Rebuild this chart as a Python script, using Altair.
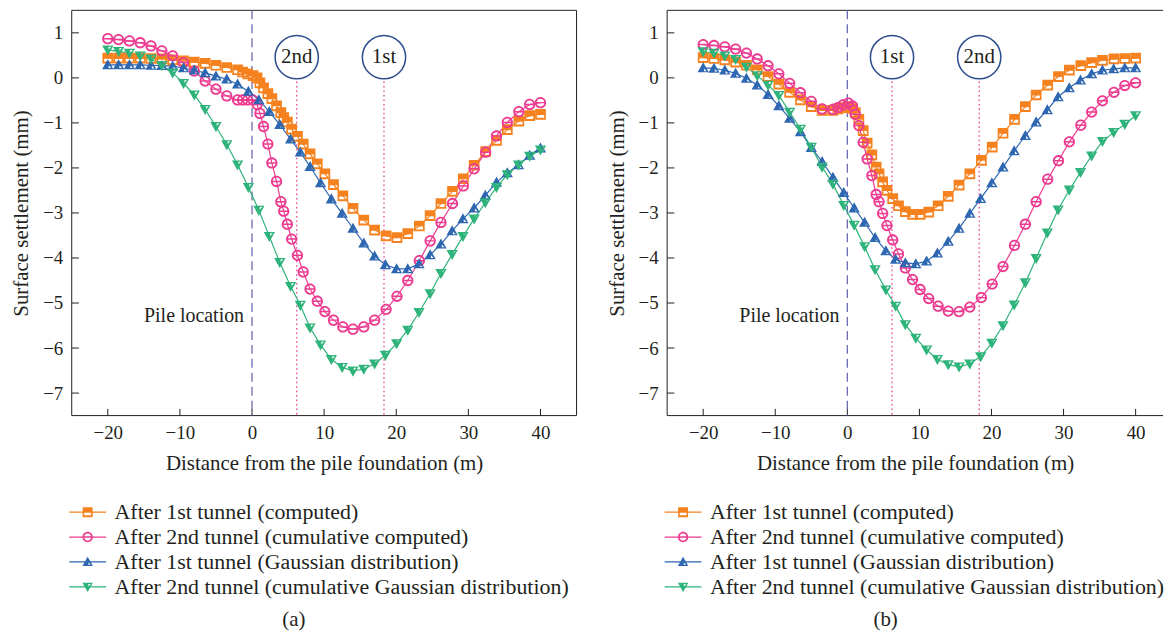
import altair as alt
import pandas as pd

FONT = "Liberation Serif"
INK = "#231f20"

SERIES = [
    "After 1st tunnel (computed)",
    "After 2nd tunnel (cumulative computed)",
    "After 1st tunnel (Gaussian distribution)",
    "After 2nd tunnel (cumulative Gaussian distribution)",
]
COLORS = ["#f5821f", "#ec3b90", "#2e67b1", "#2eb37a"]

# x positions of the computed (numerical) results
X_FE = [-20, -18.5, -17, -15.5, -14, -12.5, -11, -9.5, -8, -6.5,
        -5, -3.5, -2, -1.3, -0.6, 0.15, 0.7, 1.1, 1.6, 2.2,
        2.75, 3.4, 4.0, 4.4, 4.9, 5.5, 6.3, 7.1, 8.05, 9.05,
        10.1, 11.3, 12.6, 14.0, 15.5, 17.0, 18.6, 20.1, 21.6, 23.2,
        24.7, 26.2, 27.8, 29.3, 30.8, 32.4, 33.9, 35.4, 37.0, 38.5,
        40]
# x positions of the Gaussian-distribution curves
X_GS = [-20, -18.5, -17, -15.5, -14, -12.5, -11, -9.5, -8, -6.5,
        -5, -3.5, -2, -0.5, 0.95, 2.4, 3.85, 5.35, 6.7, 8.05,
        9.5, 11.0, 12.5, 14.0, 15.5, 17.0, 18.5, 20.05, 21.6, 23.15,
        24.7, 26.2, 27.75, 29.25, 30.8, 32.35, 33.9, 35.4, 36.95, 38.5,
        40]

# ---- panel (a)
A_COMP1 = [0.44, 0.44, 0.44, 0.44, 0.43, 0.42, 0.40, 0.38, 0.35, 0.32,
           0.28, 0.23, 0.18, 0.13, 0.09, 0.05, 0.0, -0.11, -0.22, -0.35,
           -0.46, -0.62, -0.77, -0.88, -0.98, -1.14, -1.30, -1.47, -1.69, -1.91,
           -2.13, -2.37, -2.62, -2.90, -3.16, -3.38, -3.51, -3.55, -3.46, -3.29,
           -3.06, -2.79, -2.52, -2.24, -1.94, -1.64, -1.39, -1.15, -0.96, -0.84,
           -0.81]
A_COMP2 = [0.87, 0.85, 0.82, 0.78, 0.71, 0.60, 0.49, 0.34, 0.15, -0.07,
           -0.25, -0.40, -0.49, -0.49, -0.49, -0.49, -0.59, -0.79, -1.08, -1.47,
           -1.89, -2.30, -2.75, -2.96, -3.25, -3.58, -3.94, -4.31, -4.69, -4.96,
           -5.19, -5.38, -5.53, -5.58, -5.53, -5.38, -5.14, -4.85, -4.50, -4.06,
           -3.62, -3.21, -2.79, -2.40, -2.02, -1.65, -1.29, -0.99, -0.75, -0.59,
           -0.55]
A_GAUSS1 = [0.29, 0.29, 0.29, 0.29, 0.28, 0.27, 0.26, 0.22, 0.17, 0.11,
            0.04, -0.03, -0.14, -0.30, -0.49, -0.75, -1.04, -1.36, -1.65, -1.97,
            -2.33, -2.69, -3.01, -3.34, -3.67, -3.96, -4.15, -4.24, -4.24, -4.13,
            -3.93, -3.69, -3.40, -3.13, -2.89, -2.61, -2.32, -2.11, -1.93, -1.72,
            -1.56]
A_GAUSS2 = [0.62, 0.59, 0.55, 0.49, 0.42, 0.28, 0.11, -0.12, -0.38, -0.70,
            -1.08, -1.48, -1.93, -2.43, -2.94, -3.52, -4.10, -4.63, -5.05, -5.55,
            -5.93, -6.25, -6.43, -6.51, -6.47, -6.35, -6.16, -5.90, -5.60, -5.21,
            -4.79, -4.34, -3.92, -3.52, -3.13, -2.77, -2.43, -2.15, -1.93, -1.74,
            -1.60]

# ---- panel (b)
B_COMP1 = [0.45, 0.43, 0.40, 0.35, 0.28, 0.18, 0.03, -0.14, -0.32, -0.49,
           -0.64, -0.72, -0.72, -0.69, -0.66, -0.64, -0.68, -0.77, -0.92, -1.17,
           -1.45, -1.71, -1.98, -2.13, -2.31, -2.50, -2.68, -2.84, -2.97, -3.03,
           -3.03, -2.98, -2.84, -2.63, -2.38, -2.13, -1.83, -1.54, -1.23, -0.92,
           -0.64, -0.38, -0.16, 0.03, 0.17, 0.27, 0.34, 0.39, 0.42, 0.43,
           0.44]
B_COMP2 = [0.74, 0.72, 0.69, 0.64, 0.55, 0.42, 0.27, 0.09, -0.12, -0.33,
           -0.52, -0.69, -0.70, -0.66, -0.60, -0.56, -0.62, -0.81, -1.06, -1.43,
           -1.80, -2.17, -2.59, -2.75, -3.01, -3.28, -3.60, -3.91, -4.22, -4.48,
           -4.70, -4.90, -5.07, -5.18, -5.19, -5.09, -4.88, -4.58, -4.19, -3.72,
           -3.25, -2.75, -2.25, -1.84, -1.42, -1.05, -0.76, -0.51, -0.32, -0.17,
           -0.11]
B_GAUSS1 = [0.22, 0.21, 0.17, 0.10, -0.01, -0.16, -0.37, -0.62, -0.90, -1.20,
            -1.55, -1.86, -2.21, -2.55, -2.89, -3.21, -3.55, -3.84, -4.03, -4.11,
            -4.13, -4.07, -3.89, -3.63, -3.34, -3.01, -2.68, -2.33, -1.98, -1.62,
            -1.28, -0.98, -0.71, -0.42, -0.22, -0.05, 0.09, 0.17, 0.20, 0.22,
            0.22]
B_GAUSS2 = [0.58, 0.55, 0.49, 0.41, 0.24, 0.05, -0.16, -0.39, -0.76, -1.14,
            -1.54, -1.98, -2.36, -2.83, -3.27, -3.75, -4.26, -4.71, -5.07, -5.48,
            -5.78, -6.04, -6.25, -6.37, -6.42, -6.35, -6.19, -5.89, -5.50, -5.04,
            -4.55, -4.01, -3.44, -2.93, -2.49, -2.10, -1.73, -1.41, -1.21, -1.03,
            -0.84]

X_TICKS = [-20, -10, 0, 10, 20, 30, 40]
Y_TICKS = [-7, -6, -5, -4, -3, -2, -1, 0, 1]
X_DOMAIN_A = [-25, 45]
X_DOMAIN_B = [-25, 43.8]   # right part of panel (b) is cut off in the figure
Y_DOMAIN = [-7.5, 1.5]
X_TITLE = "Distance from the pile foundation (m)"
Y_TITLE = "Surface settlement (mm)"

PILE_X = [0]
TUNNEL_X = [6.2, 18.3]
TUNNEL_LABELS_A = ["2nd", "1st"]
TUNNEL_LABELS_B = ["1st", "2nd"]
CIRCLE_Y = 0.46
DOTTED_TOP = -0.08
PILE_LABEL = ["Pile location"]
PILE_LABEL_X = [-1.1]
PILE_LABEL_Y = [-5.3]

# marker paths (unit box), holes by opposite winding
PLOT_SHAPES = [
    "M-0.95,-0.95H0.95V0.95H-0.95Z M-0.65,0.1V0.6H0.65V0.1Z",
    "M1,0A1,1,0,1,1,-1,0A1,1,0,1,1,1,0Z M0.68,0A0.68,0.68,0,1,0,-0.68,0A0.68,0.68,0,1,0,0.68,0Z M-0.68,-0.13H0.68V0.13H-0.68Z",
    "M0,-1L1,0.78H-1Z M0.14,0.08V0.56H0.62Z",
    "M-1,-0.78H1L0,1Z M0.14,-0.56V-0.08L0.62,-0.56Z",
]
LEG_LINE = "M-2.47,-0.085H2.47V0.085H-2.47Z "
LEGEND_SHAPES = [
    LEG_LINE + "M-0.67,-0.67H0.67V0.67H-0.67Z M-0.46,0.07V0.42H0.46V0.07Z",
    LEG_LINE + "M0.7,0A0.7,0.7,0,1,1,-0.7,0A0.7,0.7,0,1,1,0.7,0Z M0.48,0A0.48,0.48,0,1,0,-0.48,0A0.48,0.48,0,1,0,0.48,0Z M-0.48,-0.1H0.48V0.1H-0.48Z",
    LEG_LINE + "M0,-0.7L0.7,0.55H-0.7Z M0.1,0.06V0.39H0.43Z",
    LEG_LINE + "M-0.7,-0.55H0.7L0,0.7Z M0.1,-0.39V-0.06L0.43,-0.39Z",
]

YS = alt.Scale(domain=Y_DOMAIN, nice=False, zero=False)
X_AXIS = alt.Axis(values=X_TICKS, ticks=False, domain=False, grid=False, labelPadding=8,
                  title=X_TITLE, titlePadding=10)
Y_AXIS = alt.Axis(values=Y_TICKS, ticks=False, domain=False, grid=False, labelPadding=9,
                  title=Y_TITLE, titlePadding=11)


def panel(comp1, comp2, gs1, gs2, tunnel_labels, caption, x_domain, width, right_border):
    xs = alt.Scale(domain=x_domain, nice=False, zero=False)

    def X(field="x"):
        return alt.X(f"{field}:Q", scale=xs, axis=X_AXIS)

    def Y(field="y"):
        return alt.Y(f"{field}:Q", scale=YS, axis=Y_AXIS)

    frames = []
    for name, xv, yv in [(SERIES[0], X_FE, comp1), (SERIES[1], X_FE, comp2),
                         (SERIES[2], X_GS, gs1), (SERIES[3], X_GS, gs2)]:
        frames.append(pd.DataFrame({"x": xv, "y": yv, "series": name}))
    df = pd.concat(frames, ignore_index=True)

    # frame of the plot (box; panel (b) is cut at the right)
    x0, x1 = x_domain
    y0, y1 = Y_DOMAIN
    fx, fx2, fy, fy2 = [x0, x0, x0], [x0, x1, x1], [y0, y0, y1], [y1, y0, y1]
    if right_border:
        fx, fx2, fy, fy2 = fx + [x1], fx2 + [x1], fy + [y0], fy2 + [y1]
    frame = alt.Chart(pd.DataFrame({"x": fx, "x2": fx2, "y": fy, "y2": fy2})).mark_rule(
        color=INK, strokeWidth=1).encode(x=X(), x2="x2:Q", y=Y(), y2="y2:Q")

    xt = pd.DataFrame({"x": X_TICKS, "y": [y0] * len(X_TICKS), "y2": [y0 + 0.15] * len(X_TICKS)})
    yt = pd.DataFrame({"y": Y_TICKS, "x": [x0] * len(Y_TICKS), "x2": [x0 + 1.0] * len(Y_TICKS)})
    tick_x = alt.Chart(xt).mark_rule(color=INK, strokeWidth=1).encode(x=X(), y=Y(), y2="y2:Q")
    tick_y = alt.Chart(yt).mark_rule(color=INK, strokeWidth=1).encode(x=X(), x2="x2:Q", y=Y())

    pile = alt.Chart(pd.DataFrame({"x": PILE_X, "y": [y1], "y2": [y0]})).mark_rule(
        color="#6b6bb3", strokeWidth=1.3, strokeDash=[9, 5]).encode(x=X(), y=Y(), y2="y2:Q")

    tl = pd.DataFrame({"x": TUNNEL_X, "y": [DOTTED_TOP] * 2, "y2": [y0] * 2,
                       "cy": [CIRCLE_Y] * 2, "label": tunnel_labels})
    dots = alt.Chart(tl).mark_rule(color="#ec3b90", strokeWidth=1.3, strokeDash=[1.5, 3]).encode(
        x=X(), y=Y(), y2="y2:Q")
    circ = alt.Chart(tl).mark_point(shape="circle", size=1886, filled=False, color="#2c4e8e",
                                    strokeWidth=1.5, opacity=1).encode(x=X(), y=Y("cy"))
    ctext = alt.Chart(tl).mark_text(font=FONT, fontSize=21, color=INK, baseline="middle").encode(
        x=X(), y=Y("cy"), text="label:N")
    ptext = alt.Chart(pd.DataFrame({"x": PILE_LABEL_X, "y": PILE_LABEL_Y, "t": PILE_LABEL})).mark_text(
        font=FONT, fontSize=20, color=INK, align="right", baseline="middle").encode(
        x=X(), y=Y(), text="t:N")

    lines = []
    pts = []
    for i, f in enumerate(frames):
        lines.append(alt.Chart(f).mark_line(strokeWidth=1.2, color=COLORS[i]).encode(x=X(), y=Y()))
        pts.append(alt.Chart(f).mark_point(shape=PLOT_SHAPES[i], filled=True, size=128,
                                           color=COLORS[i], opacity=1, strokeWidth=0).encode(x=X(), y=Y()))

    leg_def = alt.Legend(orient="none", legendX=5, legendY=493, direction="vertical", title=None,
                         labelFont=FONT, labelFontSize=22, labelColor=INK, labelLimit=800,
                         labelOffset=16, rowPadding=3, padding=0, symbolSize=225,
                         symbolStrokeWidth=0, symbolOpacity=1)
    leg = alt.Chart(df).transform_filter("false").mark_point(
        filled=True, size=225, opacity=1, strokeWidth=0).encode(
        x=X(), y=Y(),
        color=alt.Color("series:N", scale=alt.Scale(domain=SERIES, range=COLORS), legend=leg_def),
        shape=alt.Shape("series:N", scale=alt.Scale(domain=SERIES, range=LEGEND_SHAPES), legend=leg_def))

    return alt.layer(frame, tick_x, tick_y, pile, dots, circ, ctext, ptext, *lines, *pts, leg).properties(
        width=width, height=407,
        title=alt.TitleParams(caption, orient="bottom", anchor="middle", frame="bounds", offset=11))


pa = panel(A_COMP1, A_COMP2, A_GAUSS1, A_GAUSS2, TUNNEL_LABELS_A, "(a)", X_DOMAIN_A, 507, True)
pb = panel(B_COMP1, B_COMP2, B_GAUSS1, B_GAUSS2, TUNNEL_LABELS_B, "(b)", X_DOMAIN_B, 498, False)

chart = alt.hconcat(pa, pb, spacing=28).resolve_scale(
    color="independent", shape="independent"
).properties(
    padding={"left": 2, "top": 0, "right": 0, "bottom": 0}
).configure_view(strokeWidth=0).configure_axis(
    labelFont=FONT, labelFontSize=19, labelColor=INK,
    titleFont=FONT, titleFontSize=21, titleFontWeight="normal", titleColor=INK
).configure_title(font=FONT, fontSize=21, fontWeight="normal", color=INK)

chart.save("out.html", embed_options={"renderer": "svg", "actions": False})
